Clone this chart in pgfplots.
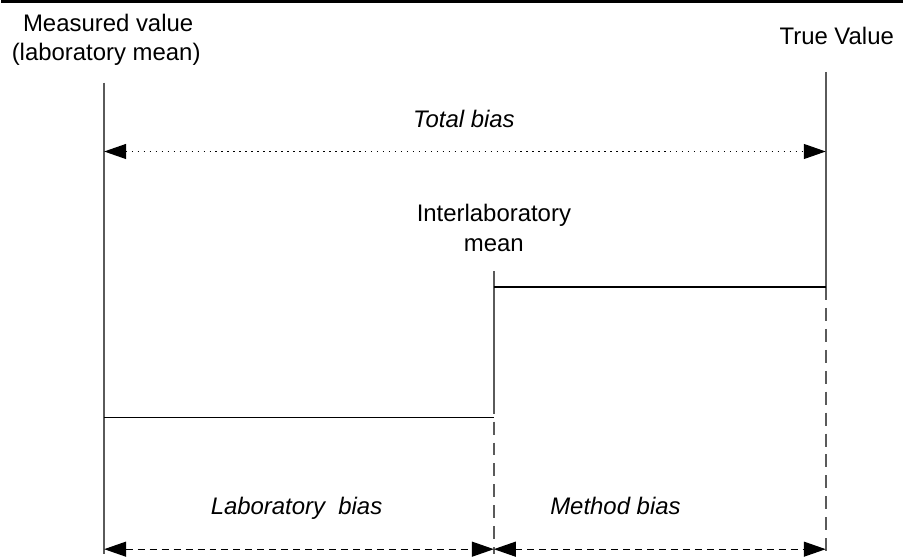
\documentclass[border=0pt]{standalone}
\usepackage{pgfplots}
\pgfplotsset{compat=1.18}
\usepackage{fontspec}
\setmainfont{Liberation Sans}
\usetikzlibrary{arrows.meta}
\definecolor{vgray}{HTML}{5A5A5A}
\begin{document}
\fontsize{24}{29}\selectfont
\begin{tikzpicture}
\begin{axis}[
  hide axis, scale only axis,
  width=904pt, height=556pt,
  xmin=0, xmax=904, ymin=0, ymax=556,
  y dir=reverse, clip=false,
]
% bounding frame (invisible)
\addplot[draw=none] coordinates {(0,0) (904,556)};
% top rule
\addplot[black, line width=3pt] coordinates {(0,1.5) (904,1.5)};
% vertical lines
\addplot[vgray, line width=1.6pt] coordinates {(103,83) (103,556)};
\addplot[vgray, line width=1.6pt] coordinates {(827,72) (827,288)};
\addplot[vgray, line width=1.6pt, dash pattern=on 13pt off 8pt] coordinates {(827,288) (827,556)};
\addplot[vgray, line width=1.6pt] coordinates {(494,272) (494,402)};
\addplot[vgray, line width=1.6pt, dash pattern=on 13pt off 8pt] coordinates {(494,402) (494,556)};
% horizontal lines
\addplot[black, line width=1.2pt] coordinates {(103,419) (494,419)};
\addplot[black, line width=1.2pt] coordinates {(494,288) (827,288)};
% total bias arrow
\addplot[black, line width=1.2pt, dash pattern=on 1.5pt off 4.5pt,
  {Triangle[length=22pt,width=15pt]}-{Triangle[length=22pt,width=15pt]}]
  coordinates {(103,152) (827,152)};
% bottom arrows
\addplot[black, line width=1.2pt, dash pattern=on 7pt off 5pt,
  {Triangle[length=22pt,width=15pt]}-{Triangle[length=22pt,width=15pt]}]
  coordinates {(103,551) (494,551)};
\addplot[black, line width=1.2pt, dash pattern=on 7pt off 5pt,
  {Triangle[length=22pt,width=15pt]}-{Triangle[length=22pt,width=15pt]}]
  coordinates {(494,551) (827,551)};
% texts
\node[anchor=base] at (axis cs:107,32) {Measured value};
\node[anchor=base] at (axis cs:105,61) {(laboratory mean)};
\node[anchor=base] at (axis cs:838,45) {True Value};
\node[anchor=base] at (axis cs:464,128) {\itshape Total bias};
\node[anchor=base] at (axis cs:494,222) {Interlaboratory};
\node[anchor=base] at (axis cs:494,252) {mean};
\node[anchor=base] at (axis cs:296,516) {\itshape Laboratory\ \ bias};
\node[anchor=base] at (axis cs:616,516) {\itshape Method bias};
\end{axis}
\end{tikzpicture}
\end{document}
